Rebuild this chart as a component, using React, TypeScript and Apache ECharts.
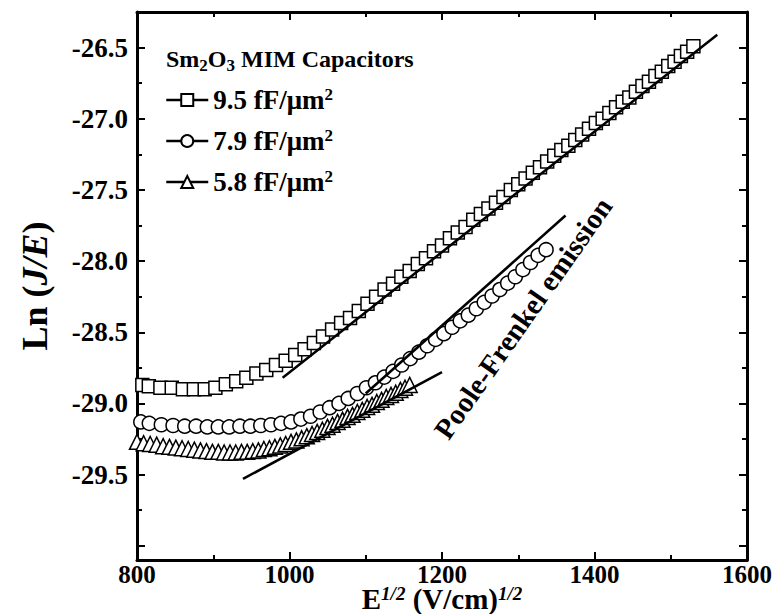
import { useEffect, useRef } from "react";
import * as echarts from "echarts";

const FONT = "'Liberation Serif', 'Times New Roman', serif";

const xTicks = [800, 1000, 1200, 1400, 1600];
const yMajor = [-30.0, -29.5, -29.0, -28.5, -28.0, -27.5, -27.0, -26.5];
const yLabels = [-29.5, -29.0, -28.5, -28.0, -27.5, -27.0, -26.5];
const yMinor = [-29.75, -29.25, -28.75, -28.25, -27.75, -27.25, -26.75];

const seriesNames = ["9.5 fF/μm", "7.9 fF/μm", "5.8 fF/μm"];

const sqX = [807, 815.5, 830.7, 845.6, 860.2, 874.6, 888.8, 902.8, 916.5, 930.1, 943.4, 956.6, 969.5, 982.3, 995.0, 1007.5, 1019.8, 1032.0, 1044.0, 1055.9, 1067.7, 1079.4, 1090.9, 1102.3, 1113.6, 1124.7, 1135.8, 1146.7, 1157.6, 1168.3, 1179.0, 1189.5, 1200.0, 1210.4, 1220.7, 1230.9, 1241.0, 1251.0, 1260.9, 1270.8, 1280.6, 1290.3, 1300.0, 1309.6, 1319.1, 1328.5, 1337.9, 1347.2, 1356.5, 1365.7, 1374.8, 1383.8, 1392.8, 1401.8, 1410.7, 1419.5, 1428.3, 1437.0, 1445.7, 1454.3, 1462.9, 1471.4, 1479.9, 1488.3, 1496.7, 1505.0, 1513.3, 1521.5, 1529.7];
const sqY = [-28.87, -28.88, -28.89, -28.89, -28.90, -28.90, -28.90, -28.89, -28.865, -28.845, -28.82, -28.79, -28.765, -28.73, -28.70, -28.66, -28.62, -28.575, -28.53, -28.48, -28.435, -28.40, -28.35, -28.30, -28.25, -28.20, -28.16, -28.11, -28.07, -28.02, -27.98, -27.93, -27.89, -27.84, -27.80, -27.76, -27.71, -27.67, -27.63, -27.59, -27.55, -27.50, -27.46, -27.42, -27.38, -27.34, -27.30, -27.26, -27.22, -27.19, -27.15, -27.11, -27.07, -27.03, -27.00, -26.96, -26.92, -26.88, -26.85, -26.81, -26.77, -26.74, -26.70, -26.67, -26.63, -26.60, -26.56, -26.53, -26.49];

const ciX = [805, 816.1, 831.9, 847.3, 862.6, 877.5, 892.2, 906.6, 920.9, 934.9, 948.7, 962.3, 975.7, 988.9, 1002.0, 1014.9, 1027.6, 1040.2, 1052.6, 1064.9, 1077.0, 1089.0, 1100.9, 1112.7, 1124.3, 1135.8, 1147.2, 1158.4, 1169.6, 1180.7, 1191.6, 1202.5, 1213.3, 1223.9, 1234.5, 1245.0, 1255.4, 1265.7, 1275.9, 1286.1, 1296.1, 1306.1, 1316.1, 1326.0, 1336.5];
const ciY = [-29.13, -29.14, -29.15, -29.155, -29.16, -29.16, -29.165, -29.165, -29.165, -29.16, -29.16, -29.155, -29.15, -29.14, -29.13, -29.11, -29.09, -29.06, -29.03, -29.00, -28.965, -28.93, -28.89, -28.855, -28.815, -28.775, -28.73, -28.685, -28.64, -28.595, -28.55, -28.51, -28.465, -28.42, -28.38, -28.335, -28.29, -28.245, -28.20, -28.155, -28.11, -28.06, -28.01, -27.96, -27.92];

const trX = [800, 808.7, 817.3, 825.8, 834.3, 842.6, 850.9, 859.1, 867.2, 875.2, 883.2, 891.1, 898.9, 906.6, 914.3, 922.0, 929.5, 937.0, 944.5, 951.8, 959.2, 966.4, 973.7, 980.8, 987.9, 995.0, 1002.0, 1009.0, 1015.9, 1022.7, 1029.6, 1036.3, 1043.1, 1049.8, 1056.4, 1063.0, 1069.6, 1076.1, 1082.6, 1089.0, 1095.4, 1101.8, 1108.2, 1114.5, 1120.7, 1126.9, 1133.1, 1139.3, 1145.4, 1151.5, 1157.6];
const trY = [-29.27, -29.28, -29.285, -29.29, -29.30, -29.305, -29.31, -29.315, -29.32, -29.325, -29.33, -29.335, -29.34, -29.34, -29.345, -29.345, -29.345, -29.34, -29.34, -29.335, -29.33, -29.32, -29.315, -29.305, -29.295, -29.285, -29.27, -29.26, -29.245, -29.23, -29.215, -29.20, -29.185, -29.165, -29.15, -29.13, -29.115, -29.095, -29.08, -29.06, -29.045, -29.025, -29.01, -28.99, -28.975, -28.955, -28.94, -28.925, -28.905, -28.89, -28.87];

const fit95X = [991, 1561];
const fit95Y = [-28.82, -26.41];
const fit79X = [1100, 1362];
const fit79Y = [-28.93, -27.68];
const fit58X = [939, 1200];
const fit58Y = [-29.53, -28.78];

const zip = (xs: number[], ys: number[]) => xs.map((x, i) => [x, ys[i]]);

export default function App() {
  const ref = useRef<HTMLDivElement>(null);
  useEffect(() => {
    if (!ref.current) return;
    const chart = echarts.init(ref.current, null, { renderer: "svg" });
    const yMin = -30.1;
    const yMax = -26.25;
    const frame = { show: true, lineStyle: { color: "#000", width: 3 } };
    const markerStyle = { color: "#fff", borderColor: "#000", borderWidth: 1.5 };
    const tickStyle = { width: 2, color: "#000" };
    const dataSeries = (name: string, symbol: string, size: number, d: number[][]) => ({
      name,
      type: "line",
      data: d,
      symbol,
      symbolSize: size,
      showSymbol: true,
      showAllSymbol: true,
      lineStyle: { opacity: 0, width: 0 },
      itemStyle: markerStyle,
      z: 2,
    });
    const fitSeries = (d: number[][]) => ({
      type: "line",
      data: d,
      showSymbol: false,
      symbol: "none",
      lineStyle: { color: "#000", width: 2.5 },
      z: 5,
      silent: true,
    });
    chart.setOption({
      animation: false,
      backgroundColor: "#fff",
      grid: { left: 137, right: 33, top: 12, bottom: 54, outerBoundsMode: "none", containLabel: false },
      title: {
        text: "Sm{sub|2}O{sub|3} MIM Capacitors",
        left: 161,
        top: 38,
        textStyle: {
          fontFamily: FONT,
          fontWeight: "bold",
          fontSize: 24,
          color: "#000",
          rich: {
            sub: { fontFamily: FONT, fontWeight: "bold", fontSize: 17, color: "#000", padding: [14, 0, 0, 0] },
          },
        },
      },
      legend: {
        data: seriesNames,
        orient: "vertical",
        left: 160,
        top: 81,
        itemWidth: 42,
        itemHeight: 15,
        itemGap: 13,
        lineStyle: { color: "#000", width: 2.5, opacity: 1 },
        formatter: (n: string) => n + "{sup|2}",
        textStyle: {
          fontFamily: FONT,
          fontWeight: "bold",
          fontSize: 27,
          lineHeight: 28,
          color: "#000",
          rich: { sup: { fontFamily: FONT, fontWeight: "bold", fontSize: 17, color: "#000", padding: [0, 0, 11, 0] } },
        },
      },
      xAxis: [
        {
          type: "value",
          position: "bottom",
          min: 800,
          max: 1600,
          interval: 200,
          axisLine: frame,
          axisTick: { inside: true, length: 8, lineStyle: tickStyle, customValues: xTicks },
          minorTick: { show: true, splitNumber: 2, length: 5, lineStyle: tickStyle },
          axisLabel: {
            customValues: xTicks,
            formatter: (v: number) => String(v),
            fontFamily: FONT,
            fontWeight: "bold",
            fontSize: 25,
            color: "#000",
            margin: 2,
          },
          splitLine: { show: false },
          name: "E{sup|1/2} (V/cm){sup|1/2}",
          nameLocation: "middle",
          nameGap: 25,
          nameMoveOverlap: false,
          nameTextStyle: {
            fontFamily: FONT,
            fontWeight: "bold",
            fontSize: 29,
            lineHeight: 28,
            color: "#000",
            rich: {
              sup: { fontFamily: FONT, fontWeight: "bold", fontStyle: "italic", fontSize: 19, lineHeight: 16, color: "#000", padding: [0, 0, 12, 0] },
            },
          },
        },
        {
          type: "value",
          position: "top",
          min: 800,
          max: 1600,
          interval: 200,
          axisLine: frame,
          axisTick: { inside: true, length: 8, lineStyle: tickStyle },
          minorTick: { show: true, splitNumber: 2, length: 5, lineStyle: tickStyle },
          axisLabel: { show: false },
          splitLine: { show: false },
        },
      ],
      yAxis: [
        {
          type: "value",
          position: "left",
          min: yMin,
          max: yMax,
          axisLine: frame,
          axisTick: { inside: true, length: 8, lineStyle: tickStyle, customValues: yMajor },
          axisLabel: {
            customValues: yLabels,
            formatter: (v: number) => v.toFixed(1),
            fontFamily: FONT,
            fontWeight: "bold",
            fontSize: 27,
            color: "#000",
            margin: 9,
          },
          splitLine: { show: false },
          name: "Ln ({i|J/E})",
          nameLocation: "middle",
          nameGap: 84,
          nameRotate: 90,
          nameMoveOverlap: false,
          nameTextStyle: {
            fontFamily: FONT,
            fontWeight: "bold",
            fontSize: 36,
            color: "#000",
            rich: { i: { fontFamily: FONT, fontWeight: "bold", fontStyle: "italic", fontSize: 36, color: "#000" } },
          },
        },
        {
          type: "value",
          position: "left",
          min: yMin,
          max: yMax,
          axisLine: { show: false },
          axisTick: { inside: true, length: 5, lineStyle: tickStyle, customValues: yMinor },
          axisLabel: { show: false },
          splitLine: { show: false },
        },
        {
          type: "value",
          position: "right",
          min: yMin,
          max: yMax,
          axisLine: frame,
          axisTick: { inside: true, length: 8, lineStyle: tickStyle, customValues: yMajor },
          axisLabel: { show: false },
          splitLine: { show: false },
        },
        {
          type: "value",
          position: "right",
          min: yMin,
          max: yMax,
          axisLine: { show: false },
          axisTick: { inside: true, length: 5, lineStyle: tickStyle, customValues: yMinor },
          axisLabel: { show: false },
          splitLine: { show: false },
        },
      ],
      graphic: [
        {
          type: "text",
          x: 523,
          y: 318,
          rotation: (55 * Math.PI) / 180,
          style: {
            text: "Poole-Frenkel emission",
            fontFamily: FONT,
            fontWeight: "bold",
            fontSize: 29,
            fill: "#000",
            textAlign: "center",
            textVerticalAlign: "middle",
          },
        },
      ],
      series: [
        dataSeries(seriesNames[2], "triangle", 15, zip(trX, trY)),
        dataSeries(seriesNames[1], "circle", 14, zip(ciX, ciY)),
        dataSeries(seriesNames[0], "rect", 13, zip(sqX, sqY)),
        fitSeries(zip(fit95X, fit95Y)),
        fitSeries(zip(fit79X, fit79Y)),
        fitSeries(zip(fit58X, fit58Y)),
      ],
    });
    return () => chart.dispose();
  }, []);
  return <div ref={ref} style={{ position: "absolute", left: 0, top: 0, width: 780, height: 614 }} />;
}
